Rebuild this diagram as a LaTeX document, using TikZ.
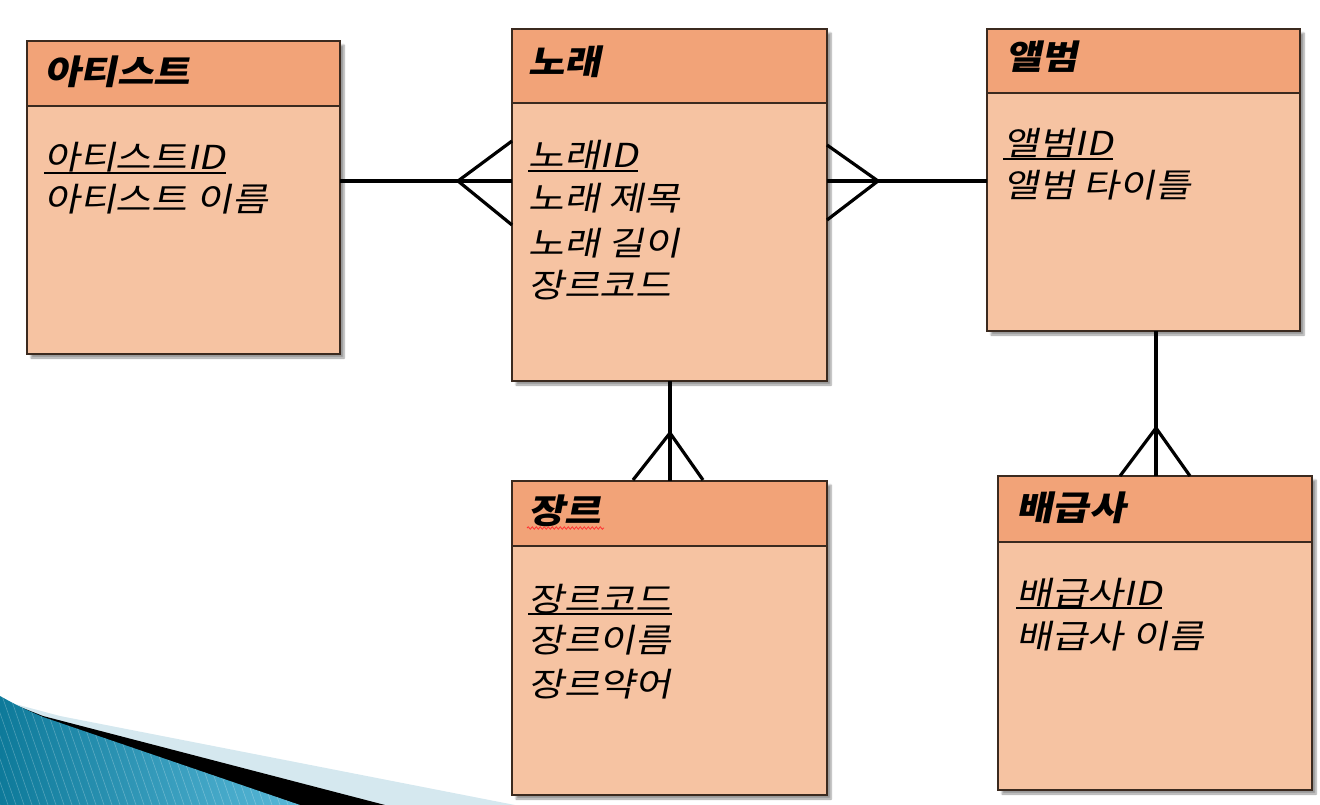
\documentclass[tikz,border=0pt]{standalone}
\usepackage{fontspec}
\newfontfamily\kr{Noto Sans CJK KR}[FakeSlant=0.2, FakeStretch=1.18, BoldFeatures={FakeSlant=0.2, FakeStretch=1.17}]
\usetikzlibrary{shadows.blur,decorations.pathmorphing}
\definecolor{hdr}{HTML}{F2A378}
\definecolor{bdy}{HTML}{F6C3A2}
\definecolor{brd}{HTML}{3B2A1F}
\definecolor{lblue}{HTML}{D5E8EF}
\definecolor{dblue}{HTML}{0E7A9A}
\definecolor{mblue}{HTML}{58B8D8}
\tikzset{
  bodybox/.style={draw=brd, line width=2.2pt, fill=bdy,
    blur shadow={shadow xshift=4pt, shadow yshift=-4pt, shadow blur steps=6, shadow opacity=40}},
  hdrbox/.style={draw=brd, line width=2.2pt, fill=hdr},
  title/.style={anchor=base west, inner sep=0pt, font=\kr\bfseries\fontsize{34}{40}\selectfont},
  attr/.style={anchor=base west, inner sep=0pt, font=\kr\fontsize{33}{40}\selectfont},
  rel/.style={line width=3.2pt, black},
}
\newcommand{\ul}[1]{\draw[line width=1.5pt] ([yshift=-3pt]#1.base west) -- ([yshift=-3pt]#1.base east);}
\begin{document}
\begin{tikzpicture}[x=1pt,y=-1pt]
\useasboundingbox (0,0) rectangle (1320,805);
% bottom-left decoration
\fill[lblue] (0,700) -- (60,716) -- (515,805) -- (0,805) -- cycle;
\fill[black] (0,699) -- (43,716) -- (385,805) -- (0,805) -- cycle;
\begin{scope}
\clip (0,696) .. controls (20,707) .. (43,717) -- (300,805) -- (0,805) -- cycle;
\shade[left color=dblue, right color=mblue] (0,690) rectangle (300,805);
\foreach \s in {-40,-32,...,320} {\draw[white, opacity=0.25, line width=0.6pt] (\s,690) -- (\s+40,805);}
\end{scope}

% ---------- entities ----------
% artist
\path[bodybox] (27,41) rectangle (340,354);
\path[hdrbox] (27,41) rectangle (340,106);
\node[title] (tA) at (44,85) {아티스트};
\node[attr] (a1) at (44,170) {아티스트ID};
\node[attr] (a2) at (44,212) {아티스트 이름};
\ul{a1}
% song
\path[bodybox] (512,29) rectangle (827,381);
\path[hdrbox] (512,29) rectangle (827,103);
\node[title] (tS) at (528,75) {노래};
\node[attr] (s1) at (528,168) {노래ID};
\node[attr] (s2) at (528,211) {노래 제목};
\node[attr] (s3) at (528,255) {노래 길이};
\node[attr] (s4) at (528,298) {장르코드};
\ul{s1}
% album
\path[bodybox] (987,29) rectangle (1300,331);
\path[hdrbox] (987,29) rectangle (1300,93);
\node[title] (tL) at (1005,70) {앨범};
\node[attr] (l1) at (1003,156) {앨범ID};
\node[attr] (l2) at (1003,198) {앨범 타이틀};
\ul{l1}
% genre
\path[bodybox] (512,481) rectangle (827,795);
\path[hdrbox] (512,481) rectangle (827,546);
\node[title] (tG) at (528,523) {장르};
\draw[red!80, line width=0.8pt, decorate, decoration={snake, amplitude=1.2pt, segment length=4pt}] (527,528) -- (604,528);
\node[attr] (g1) at (528,611) {장르코드};
\node[attr] (g2) at (528,652) {장르이름};
\node[attr] (g3) at (528,696) {장르약어};
\ul{g1}
% distributor
\path[bodybox] (998,476) rectangle (1312,790);
\path[hdrbox] (998,476) rectangle (1312,542);
\node[title] (tD) at (1016,520) {배급사};
\node[attr] (d1) at (1016,605) {배급사ID};
\node[attr] (d2) at (1016,648) {배급사 이름};
\ul{d1}

% ---------- relationships ----------
\coordinate (r1a) at (340,181); \coordinate (r1b) at (512,181);
\coordinate (r1v) at (458,181); \coordinate (r1t) at (512,141); \coordinate (r1u) at (512,225);
\draw[rel] (r1a) -- (r1b);
\draw[rel] (r1t) -- (r1v) -- (r1u);

\coordinate (r2a) at (827,181); \coordinate (r2b) at (987,181);
\coordinate (r2v) at (878,181); \coordinate (r2t) at (827,145); \coordinate (r2u) at (827,220);
\draw[rel] (r2a) -- (r2b);
\draw[rel] (r2t) -- (r2v) -- (r2u);

\coordinate (r3a) at (670,381); \coordinate (r3b) at (670,481);
\coordinate (r3v) at (670,433); \coordinate (r3t) at (633,480); \coordinate (r3u) at (703,480);
\draw[rel] (r3a) -- (r3b);
\draw[rel] (r3t) -- (r3v) -- (r3u);

\coordinate (r4a) at (1156,331); \coordinate (r4b) at (1156,476);
\coordinate (r4v) at (1156,428); \coordinate (r4t) at (1120,476); \coordinate (r4u) at (1190,476);
\draw[rel] (r4a) -- (r4b);
\draw[rel] (r4t) -- (r4v) -- (r4u);
\end{tikzpicture}
\end{document}
